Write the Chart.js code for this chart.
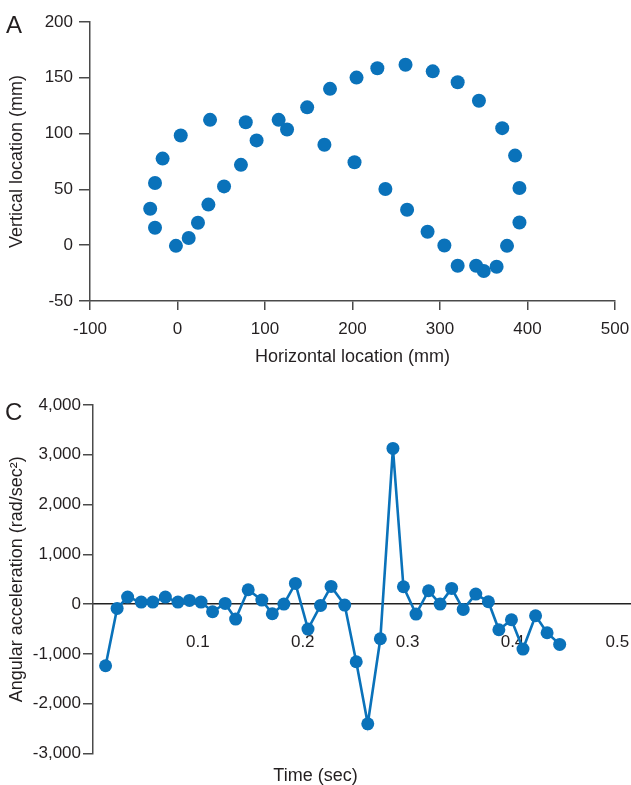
<!DOCTYPE html>
<html><head><meta charset="utf-8">
<script src="https://cdn.jsdelivr.net/npm/chart.js@4/dist/chart.umd.min.js"></script>
<style>
html,body{margin:0;padding:0;background:#fff;overflow:hidden;width:631px;height:785px;}
#wa{position:absolute;left:0;top:0;width:631px;height:372px;}
#wc{position:absolute;left:0;top:380px;width:631px;height:408px;}
.lab{position:absolute;font-family:"Liberation Sans",Arial,sans-serif;font-size:24px;line-height:24px;color:#231f20;}
</style></head><body>
<div id="wa"><canvas id="ca" width="631" height="372"></canvas></div>
<div id="wc"><canvas id="cc" width="631" height="408"></canvas></div>
<div class="lab" style="left:6px;top:13px">A</div>
<div class="lab" style="left:5px;top:400px">C</div>
<script>
// ---- Panel A data ----
const horizontalMM = [-31.2, -25.7, -17, 3.7, 37.2, 78, 115.6, 148.2, 174.3, 204.6, 228.4, 260.6, 291.7, 320.2, 344.5, 371.1, 385.8, 390.8, 390.8, 376.6, 364.7, 350, 341.3, 320.2, 305, 285.8, 262.4, 237.6, 202.3, 167.9, 125.2, 90.4, 72.5, 53.2, 35.3, 23.4, 12.8, -1.8, -25.7];
const verticalMM = [32.6, 55.7, 77.6, 98.3, 112.3, 110.2, 112.3, 123.5, 140.1, 150.2, 158.5, 161.7, 155.8, 146, 129.4, 104.9, 80.3, 51.2, 20.4, -0.6, -19.3, -23.1, -18.4, -18.4, -0.3, 12.1, 31.7, 50.4, 74.3, 90, 103.7, 93.9, 72, 52.7, 36.4, 20.1, 6.5, -0.6, 15.7];
const xTicksA = [-100, 0, 100, 200, 300, 400, 500];
const xTickLabelsA = ['-100', '0', '100', '200', '300', '400', '500'];
const yTicksA = [-50, 0, 50, 100, 150, 200];
const yTickLabelsA = ['-50', '0', '50', '100', '150', '200'];

// ---- Panel C data ----
const timeSec = [0.012, 0.023, 0.033, 0.046, 0.057, 0.069, 0.081, 0.092, 0.103, 0.114, 0.126, 0.136, 0.148, 0.161, 0.171, 0.182, 0.193, 0.205, 0.217, 0.227, 0.240, 0.251, 0.262, 0.274, 0.286, 0.296, 0.308, 0.320, 0.331, 0.342, 0.353, 0.365, 0.377, 0.387, 0.399, 0.410, 0.422, 0.433, 0.445];
const angAccel = [-1239, -87, 141, 40, 40, 141, 40, 74, 40, -154, 13, -301, 288, 80, -194, 0, 415, -502, -27, 355, -20, -1159, -2405, -697, 3128, 348, -201, 268, 0, 315, -107, 201, 47, -516, -315, -904, -234, -576, -810];
const xTicksC = [0.1, 0.2, 0.3, 0.4, 0.5];
const xTickLabelsC = ['0.1', '0.2', '0.3', '0.4', '0.5'];
const yTicksC = [-3000, -2000, -1000, 0, 1000, 2000, 3000, 4000];
const yTickLabelsC = ['-3,000', '-2,000', '-1,000', '0', '1,000', '2,000', '3,000', '4,000'];

const FONT = '"Liberation Sans", Arial, sans-serif';
const BLUE = '#0a72ba';
const AXIS = '#4a4a4a';
const TEXT = '#231f20';

Chart.defaults.font.family = FONT;
Chart.defaults.color = TEXT;

new Chart(document.getElementById('ca'), {
  type: 'scatter',
  data: { datasets: [{
    data: horizontalMM.map((x, i) => ({ x: x, y: verticalMM[i] })),
    backgroundColor: BLUE, borderColor: BLUE, pointRadius: 7, pointBorderWidth: 0, pointHoverRadius: 7
  }]},
  options: {
    responsive: false, animation: false,
    layout: { autoPadding: false, padding: { top: 22, right: 16, left: 0, bottom: 0 } },
    plugins: { legend: { display: false }, tooltip: { enabled: false } },
    scales: {
      x: {
        type: 'linear', position: 'bottom', min: -100, max: 500,
        afterBuildTicks: s => { s.ticks = xTicksA.map(v => ({ value: v })); },
        ticks: { callback: (v, i) => xTickLabelsA[i], padding: 9, font: { size: 17 }, color: TEXT, maxRotation: 0, autoSkip: false },
        grid: { drawOnChartArea: false, drawTicks: true, tickLength: 9, color: AXIS, lineWidth: 1.5 },
        border: { display: true, color: AXIS, width: 1.5 },
        title: { display: true, text: 'Horizontal location (mm)', font: { size: 18 }, color: TEXT, padding: { top: 0, bottom: 4 } },
        afterFit: s => { s.height = 71; s.paddingLeft = 0; s.paddingRight = 0; }
      },
      y: {
        type: 'linear', position: 'left', min: -50, max: 200,
        afterBuildTicks: s => { s.ticks = yTicksA.map(v => ({ value: v })); },
        ticks: { callback: (v, i) => yTickLabelsA[i], padding: 6, font: { size: 17 }, color: TEXT },
        grid: { drawOnChartArea: false, drawTicks: true, tickLength: 11, color: AXIS, lineWidth: 1.5 },
        border: { display: true, color: AXIS, width: 1.5 },
        title: { display: true, text: 'Vertical location (mm)', font: { size: 18 }, color: TEXT, padding: { top: 6, bottom: 0 } },
        afterFit: s => { s.width = 90; s.paddingTop = 0; s.paddingBottom = 0; }
      }
    }
  }
});

new Chart(document.getElementById('cc'), {
  type: 'line',
  data: { datasets: [{
    data: timeSec.map((t, i) => ({ x: t, y: angAccel[i] })),
    borderColor: BLUE, backgroundColor: BLUE, borderWidth: 2.6,
    pointRadius: 6.5, pointBorderWidth: 0, pointHoverRadius: 6.5, tension: 0, fill: false
  }]},
  options: {
    responsive: false, animation: false,
    layout: { autoPadding: false, padding: { top: 25, right: 0, left: 0, bottom: 0 } },
    plugins: {
      legend: { display: false }, tooltip: { enabled: false },
      title: { display: true, position: 'bottom', text: 'Time (sec)', font: { size: 18, weight: 'normal' }, color: TEXT, padding: { top: 12, bottom: 1 } }
    },
    scales: {
      x: {
        type: 'linear', position: { y: 0 }, min: 0, max: 0.513,
        afterBuildTicks: s => { s.ticks = xTicksC.map(v => ({ value: v })); },
        ticks: { callback: (v, i) => xTickLabelsC[i], padding: 28, font: { size: 17 }, color: TEXT, maxRotation: 0, autoSkip: false },
        grid: { display: false, drawTicks: false },
        border: { display: true, color: '#222', width: 1.5 },
        afterFit: s => { s.paddingLeft = 0; s.paddingRight = 0; }
      },
      y: {
        type: 'linear', position: 'left', min: -3000, max: 4000,
        afterBuildTicks: s => { s.ticks = yTicksC.map(v => ({ value: v })); },
        ticks: { callback: (v, i) => yTickLabelsC[i], padding: 2, font: { size: 17 }, color: TEXT },
        grid: { drawOnChartArea: false, drawTicks: true, tickLength: 10, color: AXIS, lineWidth: 1.5 },
        border: { display: true, color: AXIS, width: 1.5 },
        title: { display: true, text: 'Angular acceleration (rad/sec²)', font: { size: 18 }, color: TEXT, padding: { top: 6, bottom: 0 } },
        afterFit: s => { s.width = 93; s.paddingTop = 0; s.paddingBottom = 0; }
      }
    }
  }
});
</script>
</body></html>
